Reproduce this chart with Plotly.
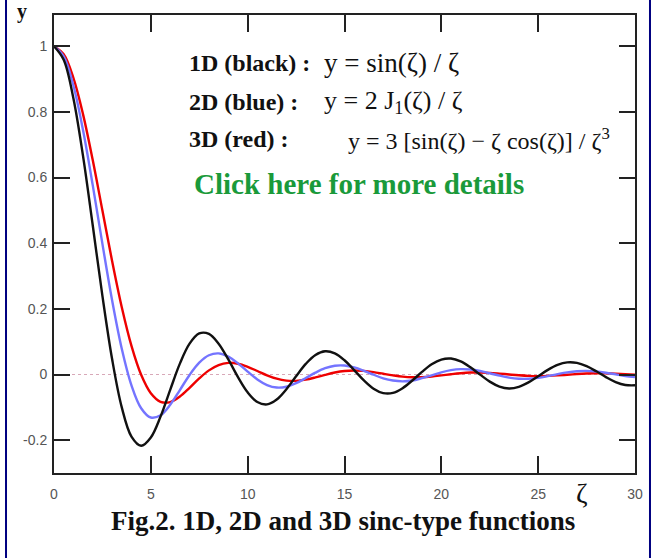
import plotly.graph_objects as go

# x values (zeta)
zeta = [i * 0.5 for i in range(61)]

# 1D sinc (black)
y_1d = [1.0, 0.9589, 0.8415, 0.6650, 0.4546, 0.2394, 0.0470, -0.1002, -0.1892, -0.2172,
        -0.1918, -0.1283, -0.0466, 0.0331, 0.0939, 0.1251, 0.1237, 0.0939, 0.0458, -0.0079,
        -0.0544, -0.0838, -0.0909, -0.0761, -0.0447, -0.0053, 0.0323, 0.0595, 0.0708, 0.0645,
        0.0434, 0.0133, -0.0180, -0.0431, -0.0566, -0.0560, -0.0417, -0.0183, 0.0079, 0.0311,
        0.0456, 0.0486, 0.0398, 0.0219, -0.0004, -0.0217, -0.0368, -0.0425, -0.0377, -0.0241,
        -0.0053, 0.0141, 0.0293, 0.0370, 0.0354, 0.0254, 0.0097, -0.0079, -0.0229, -0.0319,
        -0.0329]

# 2D (blue)
y_2d = [1.0, 0.9692, 0.8801, 0.7439, 0.5767, 0.3977, 0.2261, 0.0785, -0.0330, -0.1027,
        -0.1310, -0.1241, -0.0922, -0.0473, -0.0013, 0.0361, 0.0587, 0.0643, 0.0545, 0.0340,
        0.0087, -0.0150, -0.0321, -0.0397, -0.0372, -0.0265, -0.0108, 0.0056, 0.0191, 0.0267,
        0.0273, 0.0216, 0.0113, -0.0007, -0.0115, -0.0184, -0.0209, -0.0184, -0.0111, -0.0026,
        0.0067, 0.0133, 0.0163, 0.0152, 0.0107, 0.0038, -0.0034, -0.0094, -0.0128, -0.0130,
        -0.0101, -0.0049, 0.0012, 0.0066, 0.0101, 0.0111, 0.0093, 0.0055, 0.0005, -0.0044,
        -0.0079]

# 3D (red)
y_3d = [1.0, 0.9752, 0.9035, 0.7924, 0.6531, 0.4994, 0.3457, 0.2048, 0.0871, -0.0010,
        -0.0571, -0.0830, -0.0839, -0.0670, -0.0404, -0.0118, 0.0126, 0.0289, 0.0354, 0.0329,
        0.0235, 0.0107, -0.0024, -0.0127, -0.0185, -0.0193, -0.0155, -0.0088, -0.0010, 0.0060,
        0.0107, 0.0124, 0.0110, 0.0073, 0.0023, -0.0025, -0.0065, -0.0084, -0.0082, -0.0060,
        -0.0027, 0.0009, 0.0040, 0.0059, 0.0062, 0.0051, 0.0028, 0.0001, -0.0024, -0.0042,
        -0.0048, -0.0042, -0.0027, -0.0007, 0.0014, 0.0029, 0.0037, 0.0036, 0.0026, 0.0011,
        -0.0006]

x_ticks = [0, 5, 10, 15, 20, 25, 30]
y_ticks = [-0.2, 0, 0.2, 0.4, 0.6, 0.8, 1]
y_tick_text = ["-0.2", "0", "0.2", "0.4", "0.6", "0.8", "1"]

fig = go.Figure()
fig.add_trace(go.Scatter(x=zeta, y=y_3d, mode="lines", line=dict(color="#ee0000", width=2.4, shape="spline"), name="3D"))
fig.add_trace(go.Scatter(x=zeta, y=y_2d, mode="lines", line=dict(color="#7474ff", width=2.4, shape="spline"), name="2D"))
fig.add_trace(go.Scatter(x=zeta, y=y_1d, mode="lines", line=dict(color="#111111", width=2.4, shape="spline"), name="1D"))

fig.add_shape(type="line", xref="paper", yref="y", x0=0, x1=1, y0=0, y1=0,
              line=dict(color="#d8a8b8", width=1, dash="dot"), layer="below")
# page border lines
for xp in [-0.0826, 1.0258]:
    fig.add_shape(type="line", xref="paper", yref="paper", x0=xp, x1=xp, y0=-0.19, y1=1.04,
                  line=dict(color="#000080", width=2))

serif = "Liberation Serif"
rows = [
    ("<b>1D (black) :</b>", "y = sin(ζ) / ζ", 63, 322, 27),
    ("<b>2D (blue) :</b>", "y = 2 J<sub>1</sub>(ζ) / ζ", 102, 322, 26),
    ("<b>3D (red) :</b>", "y = 3 [sin(ζ) − ζ cos(ζ)] / ζ<sup>3</sup>", 139, 346, 24),
]
def px_x(p):
    return (p - 54) / 581.0
def px_y(p):
    return (473 - p) / 458.0
for lab, eq, yy, xe, fsz in rows:
    fig.add_annotation(text=lab, xref="paper", yref="paper", x=px_x(187), y=px_y(yy),
                       xanchor="left", yanchor="middle", showarrow=False,
                       font=dict(family=serif, size=24, color="#111111"))
    fig.add_annotation(text=eq, xref="paper", yref="paper", x=px_x(xe), y=px_y(yy),
                       xanchor="left", yanchor="middle", showarrow=False,
                       font=dict(family=serif, size=fsz, color="#111111"))
fig.add_annotation(text="<b>Click here for more details</b>", xref="paper", yref="paper",
                   x=px_x(192), y=px_y(184), xanchor="left", yanchor="middle", showarrow=False,
                   font=dict(family=serif, size=29, color="#1a9a3a"))
fig.add_annotation(text="<b>y</b>", xref="paper", yref="paper", x=px_x(22), y=px_y(12),
                   xanchor="center", yanchor="middle", showarrow=False,
                   font=dict(family=serif, size=20, color="#111111"))
fig.add_annotation(text="ζ", xref="paper", yref="paper", x=px_x(582), y=px_y(493),
                   xanchor="center", yanchor="middle", showarrow=False,
                   font=dict(family=serif, size=28, color="#111111"))
fig.add_annotation(text="<b>Fig.2. 1D, 2D and 3D sinc-type functions</b>", xref="paper", yref="paper",
                   x=px_x(343), y=px_y(521), xanchor="center", yanchor="middle", showarrow=False,
                   font=dict(family=serif, size=27, color="#111111"))

axis_common = dict(showline=True, linecolor="#222222", linewidth=2, mirror="ticks",
                   ticks="inside", tickwidth=2, tickcolor="#222222", showgrid=False,
                   zeroline=False, automargin=False,
                   tickfont=dict(family="Liberation Sans", size=14, color="#555555"))
fig.update_xaxes(range=[0, 30], tickvals=x_ticks, ticklen=17, ticklabelstandoff=7, **axis_common)
fig.update_yaxes(range=[-0.3, 1.095], tickvals=y_ticks, ticktext=y_tick_text, ticklen=16,
                 ticklabelstandoff=2, **axis_common)

fig.update_layout(width=662, height=558, margin=dict(l=54, r=27, t=15, b=85, autoexpand=False),
                  paper_bgcolor="white", plot_bgcolor="white", showlegend=False)
fig.write_html("out.html", config={"displayModeBar": False},
               post_script="document.body.style.margin='0';")
